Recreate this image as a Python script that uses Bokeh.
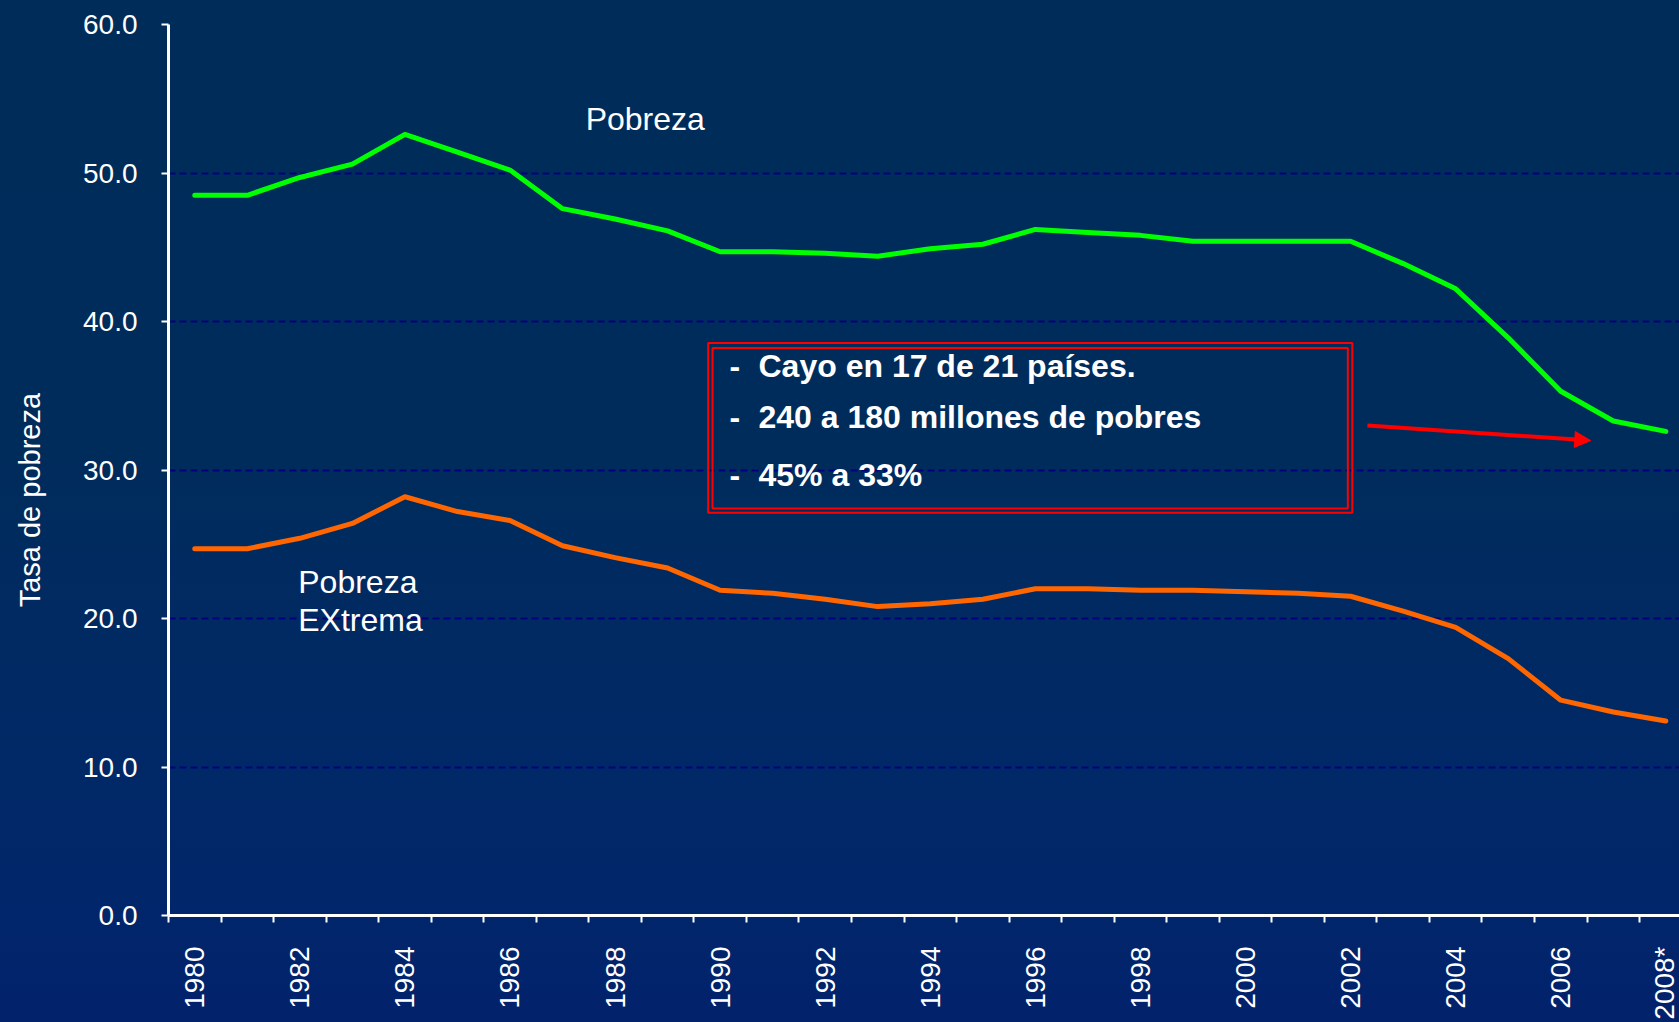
import math
from bokeh.plotting import figure
from bokeh.layouts import row
from bokeh.models import (Range1d, FixedTicker, PrintfTickFormatter,
                          Label, BoxAnnotation, Arrow, NormalHead)
from bokeh.embed import file_html
from bokeh.resources import INLINE

# ---------------- data ----------------
years = ["1980", "1981", "1982", "1983", "1984", "1985", "1986", "1987", "1988", "1989",
         "1990", "1991", "1992", "1993", "1994", "1995", "1996", "1997", "1998", "1999",
         "2000", "2001", "2002", "2003", "2004", "2005", "2006", "2007", "2008*"]
pobreza = [48.5, 48.5, 49.7, 50.6, 52.6, 51.4, 50.2, 47.6, 46.9, 46.1,
           44.7, 44.7, 44.6, 44.4, 44.9, 45.2, 46.2, 46.0, 45.8, 45.4,
           45.4, 45.4, 45.4, 43.9, 42.2, 38.9, 35.3, 33.3, 32.6]
pobreza_extrema = [24.7, 24.7, 25.4, 26.4, 28.2, 27.2, 26.6, 24.9, 24.1, 23.4,
                   21.9, 21.7, 21.3, 20.8, 21.0, 21.3, 22.0, 22.0, 21.9, 21.9,
                   21.8, 21.7, 21.5, 20.5, 19.4, 17.3, 14.5, 13.7, 13.1]
y_ticks = [0, 10, 20, 30, 40, 50, 60]
box_lines = ["Cayo en 17 de 21 países.", "240 a 180 millones de pobres", "45% a 33%"]
y_title = "Tasa de pobreza"

FONT = "Liberation Sans"
WHITE = "#FFFFFF"
W_TITLE = 60

# category centres on a numeric scale (one unit per year)
xc = [i + 0.5 for i in range(len(years))]
label_pos = [xc[i] for i in range(0, len(years), 2)]

# ---------- narrow strip carrying the y-axis title (frame aligned with main chart) ----------
t = figure(width=W_TITLE, height=1022, x_range=Range1d(0, W_TITLE), y_range=Range1d(0, 60),
           output_backend="svg", toolbar_location=None,
           x_axis_location=None, y_axis_location=None,
           min_border_left=0, min_border_right=0, min_border_top=24, min_border_bottom=106)
t.background_fill_alpha = 0
t.border_fill_alpha = 0
t.outline_line_color = None
t.xgrid.visible = False
t.ygrid.visible = False
t.add_layout(Label(x=29, y=27.97, text=y_title, angle=math.pi / 2,
                   text_align="center", text_baseline="middle",
                   text_font=FONT, text_font_size="29px", text_color=WHITE))

# ---------- main chart ----------
p = figure(width=1679 - W_TITLE, height=1022,
           x_range=Range1d(0, 28.76), y_range=Range1d(0, 60),
           output_backend="svg", toolbar_location=None,
           min_border_left=168 - W_TITLE, min_border_right=0,
           min_border_top=24, min_border_bottom=106)

p.background_fill_alpha = 0
p.border_fill_alpha = 0
p.outline_line_color = None

# x axis: ticks at category boundaries, labels at centres of even years
p.xaxis.ticker = FixedTicker(ticks=label_pos, minor_ticks=list(range(len(years))))
p.xaxis.major_label_overrides = {xc[i]: years[i] for i in range(0, len(years), 2)}
p.xaxis.major_label_orientation = math.pi / 2
p.xaxis.major_label_text_font = FONT
p.xaxis.major_label_text_font_size = "28px"
p.xaxis.major_label_text_color = WHITE
p.xaxis.major_label_standoff = 24
p.xaxis.axis_line_color = WHITE
p.xaxis.axis_line_width = 3
p.xaxis.major_tick_line_color = None
p.xaxis.major_tick_out = 0
p.xaxis.major_tick_in = 0
p.xaxis.minor_tick_line_color = WHITE
p.xaxis.minor_tick_line_width = 2
p.xaxis.minor_tick_out = 7
p.xaxis.minor_tick_in = 0
p.xgrid.visible = False

# y axis
p.yaxis.ticker = FixedTicker(ticks=y_ticks, minor_ticks=[])
p.yaxis.formatter = PrintfTickFormatter(format="%.1f")
p.yaxis.axis_line_color = WHITE
p.yaxis.axis_line_width = 3
p.yaxis.major_tick_line_color = WHITE
p.yaxis.major_tick_line_width = 2
p.yaxis.major_tick_out = 7
p.yaxis.major_tick_in = 0
p.yaxis.minor_tick_line_color = None
p.yaxis.major_label_text_font = FONT
p.yaxis.major_label_text_font_size = "28px"
p.yaxis.major_label_text_color = WHITE
p.yaxis.major_label_standoff = 24

p.ygrid.ticker = FixedTicker(ticks=y_ticks)
p.ygrid.grid_line_color = "#000080"
p.ygrid.grid_line_width = 2
p.ygrid.grid_line_dash = "7 4"

# series
p.line(xc, pobreza, line_color="#00FF00", line_width=5, line_cap="round", line_join="round")
p.line(xc, pobreza_extrema, line_color="#FF6600", line_width=5, line_cap="round", line_join="round")

# series names
p.add_layout(Label(x=7.94, y=53.64, text="Pobreza", text_baseline="middle",
                   text_font=FONT, text_font_size="32px", text_color=WHITE))
p.add_layout(Label(x=2.47, y=22.47, text="Pobreza", text_baseline="middle",
                   text_font=FONT, text_font_size="32px", text_color=WHITE))
p.add_layout(Label(x=2.47, y=19.88, text="EXtrema", text_baseline="middle",
                   text_font=FONT, text_font_size="32px", text_color=WHITE))

# annotation box
p.add_layout(BoxAnnotation(left=10.272, right=22.533, top=38.55, bottom=27.12,
                           fill_alpha=0, line_color="#FF0000", line_alpha=1, line_width=2))
p.add_layout(BoxAnnotation(left=10.355, right=22.447, top=38.22, bottom=27.41,
                           fill_alpha=0, line_color="#FF0000", line_alpha=1, line_width=2))
box_y = [36.97, 33.56, 29.63]
for yy, txt in zip(box_y, box_lines):
    p.add_layout(Label(x=10.68, y=yy, text="-", text_baseline="middle",
                       text_font=FONT, text_font_size="32px", text_font_style="bold",
                       text_color=WHITE))
    p.add_layout(Label(x=11.23, y=yy, text=txt, text_baseline="middle",
                       text_font=FONT, text_font_size="32px", text_font_style="bold",
                       text_color=WHITE))

p.add_layout(Arrow(end=NormalHead(size=16, fill_color="#FF0000", line_color="#FF0000"),
                   x_start=22.82, y_start=33.0, x_end=27.07, y_end=31.98,
                   line_color="#FF0000", line_width=4))

layout = row(t, p, styles={
    "background": "linear-gradient(180deg, #002c5a 0%, #002c5c 45%, #01276a 85%, #02226c 100%)",
})

open("out.html", "w").write(file_html(layout, INLINE))
